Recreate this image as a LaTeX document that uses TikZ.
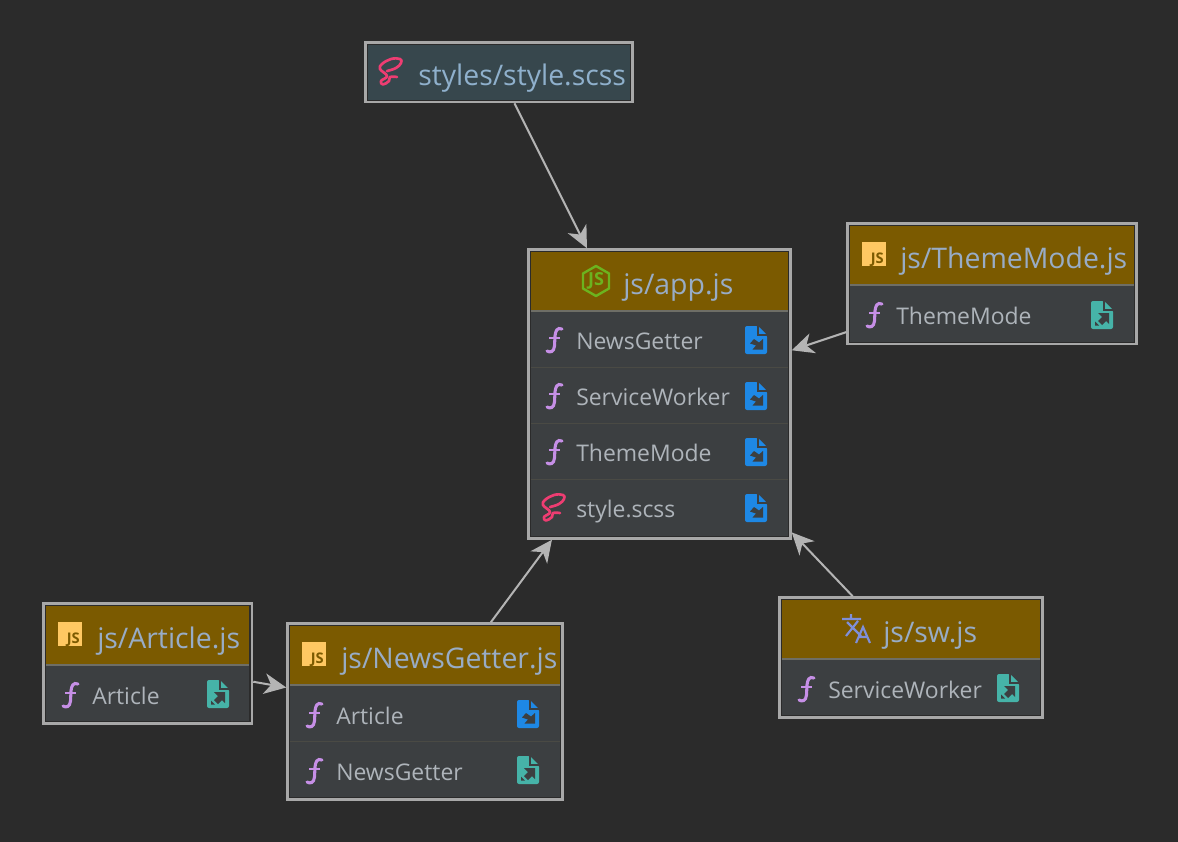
\documentclass[tikz,border=0pt]{standalone}
\usepackage{fontspec}
\setmainfont{Open Sans}
\usetikzlibrary{fit,arrows.meta}
\definecolor{bgc}{HTML}{2B2B2B}
\definecolor{hdrc}{HTML}{7B5A00}
\definecolor{bodyc}{HTML}{3C3F41}
\definecolor{scssc}{HTML}{37474D}
\definecolor{edgec}{HTML}{A8A8A8}
\definecolor{arrowc}{HTML}{B4B4B4}
\definecolor{seprowc}{HTML}{4A4A44}
\definecolor{sepc}{HTML}{6E6E66}
\definecolor{headtxt}{HTML}{98ACC6}
\definecolor{rowtxt}{HTML}{AEB4BA}
\definecolor{scsstxt}{HTML}{8FB0CC}
\definecolor{fnc}{HTML}{C68FE6}
\definecolor{sassc}{HTML}{EE3D72}
\definecolor{blueic}{HTML}{1E88E5}
\definecolor{tealic}{HTML}{46B3A8}
\definecolor{jsc}{HTML}{FFC862}
\definecolor{nodejsc}{HTML}{6CB31E}
\definecolor{trc}{HTML}{7F8FD8}
\tikzset{
  x=0.75pt,y=-0.75pt,
  boxframe/.style={draw=edgec,line width=1.9pt,fill=bgc,inner sep=0pt,rectangle},
  sepline/.style={draw=sepc,line width=1.5pt},
  rowline/.style={draw=seprowc,line width=0.75pt},
  headlabel/.style={anchor=base west,inner sep=0pt,text=headtxt,font=\fontsize{21.3}{25}\selectfont},
  rowlabel/.style={anchor=base west,inner sep=0pt,text=rowtxt,font=\fontsize{17.2}{20}\selectfont},
  dep/.style={draw=arrowc,line width=1.5pt,-{Stealth[length=16.5pt,width=15.5pt,inset=5pt]}},
  ficon/.pic={
    \draw[fnc,line width=2.3pt,line cap=round] (8,-11) .. controls (3,-13) and (1.5,-9) .. (1,-4) -- (0.5,6) .. controls (0,12) and (-4,13) .. (-7,11);
    \draw[fnc,line width=2.1pt] (-5,-2) -- (6,-2);
  },
  sassicon/.pic={
    \draw[sassc,line width=2pt,line cap=round,line join=round] plot[smooth,tension=0.7] coordinates {(-3,-1) (6,-4) (11,-9) (10,-13) (1,-13) (-8,-8) (-10,-3) (-3,4) (-9,9) (-7,12.5) (-1,9) (0,5) (7,5)};
  },
  transicon/.pic={
    \draw[trc,line width=1.6pt] (-14,-9) -- (5,-9) (-5,-14) -- (-5,-9) (-9,-6) -- (5,8) (2,-7) -- (-10,8);
    \draw[trc,line width=1.6pt] (0,15) -- (7,-1) -- (14,15) (3,9) -- (11,9);
  },
  nodeicon/.pic={
    \draw[nodejsc,line width=1.8pt,line join=round] (0,-15) -- (13,-7.5) -- (13,7.5) -- (0,15) -- (-13,7.5) -- (-13,-7.5) -- cycle;
    \node[inner sep=0pt,text=nodejsc,font=\fontsize{13.5}{14}\selectfont\bfseries] (nodejs) at (0,0) {JS};
  },
  jsicon/.pic={
    \fill[jsc] (-12,-12) rectangle (12,12);
    \node[inner sep=0pt,anchor=base east,text=hdrc,font=\fontsize{11}{11}\selectfont\bfseries] (jsmark) at (10,9.5) {JS};
  },
  bluefile/.pic={
    \fill[blueic,rounded corners=1.5pt] (-11,-14) -- (2,-14) -- (11,-5) -- (11,14) -- (-11,14) -- cycle;
    \draw[bodyc,line width=0.9pt] (2,-14) -- (2,-5) -- (11,-5);
    \fill[bodyc] (7,-1) -- (7,9.5) -- (-3.5,9.5) -- (0,5.5) -- (-6,3.5) -- (-2,-1) -- (3,2.5) -- cycle;
  },
  tealfile/.pic={
    \fill[tealic,rounded corners=1.5pt] (-11,-14) -- (2,-14) -- (11,-5) -- (11,14) -- (-11,14) -- cycle;
    \draw[bodyc,line width=0.9pt] (2,-14) -- (2,-5) -- (11,-5);
    \fill[bodyc] (-4,-2) -- (7,-2) -- (7,9) -- (4,6) -- (0,10) -- (-4,6) -- (0,2) -- cycle;
    \fill[bodyc] (-7,6.5) -- (-3,10.5) -- (-7,10.5) -- cycle;
  },
}
\begin{document}
\begin{tikzpicture}
\fill[bgc] (0,0) rectangle (1178,842);
\useasboundingbox (0,0) rectangle (1178,842);

% frames
\node[boxframe,fit={(365.5,42.5)(632.5,102)}] (scss) {};
\node[boxframe,fit={(528.5,249.5)(790.5,538.5)}] (app) {};
\node[boxframe,fit={(847.5,223.5)(1136.5,344)}] (theme) {};
\node[boxframe,fit={(779.5,597.5)(1042.5,717.5)}] (sw) {};
\node[boxframe,fit={(43.5,603.5)(252,723.5)}] (article) {};
\node[boxframe,fit={(287.5,623.5)(562.5,799.5)}] (getter) {};

% fills
\fill[scssc] (368,45) rectangle (630,100);
\fill[bodyc] (531,252) rectangle (788,536);
\fill[hdrc] (531,252) rectangle (788,310);
\draw[sepline] (531,311) -- (788,311);
\draw[rowline] (531,367) -- (788,367) (531,423) -- (788,423) (531,479) -- (788,479);
\fill[bodyc] (850,226) rectangle (1134,342);
\fill[hdrc] (850,226) rectangle (1134,284);
\draw[sepline] (850,285) -- (1134,285);
\fill[bodyc] (782,600) rectangle (1040,715);
\fill[hdrc] (782,600) rectangle (1040,658);
\draw[sepline] (782,659) -- (1040,659);
\fill[bodyc] (46,606) rectangle (249,721);
\fill[hdrc] (46,606) rectangle (249,664);
\draw[sepline] (46,665) -- (249,665);
\fill[bodyc] (290,626) rectangle (560,797);
\fill[hdrc] (290,626) rectangle (560,684);
\draw[sepline] (290,685) -- (560,685);
\draw[rowline] (290,741) -- (560,741);

% connectors
\draw[dep] (scss) -- (app);
\draw[dep] (theme) -- (app);
\draw[dep] (sw) -- (app);
\draw[dep] (getter) -- (app);
\draw[dep] (article) -- (getter);

% text
\node[headlabel,text=scsstxt] (t1) at (418,85) {styles/style.scss};
\node[headlabel] (t2) at (623,294) {js/app.js};
\node[rowlabel] (t3) at (576,349.5) {NewsGetter};
\node[rowlabel] (t4) at (576,405.5) {ServiceWorker};
\node[rowlabel] (t5) at (576,461.5) {ThemeMode};
\node[rowlabel] (t6) at (576,517.5) {style.scss};
\node[headlabel] (t7) at (900,268) {js/ThemeMode.js};
\node[rowlabel] (t8) at (896,324) {ThemeMode};
\node[headlabel] (t9) at (883,642) {js/sw.js};
\node[rowlabel] (t10) at (828,698) {ServiceWorker};
\node[headlabel] (t11) at (97,648) {js/Article.js};
\node[rowlabel] (t12) at (92,704) {Article};
\node[headlabel] (t13) at (341,668) {js/NewsGetter.js};
\node[rowlabel] (t14) at (336,724) {Article};
\node[rowlabel] (t15) at (336,780) {NewsGetter};

% icons
\pic at (390,72) {sassicon};
\pic at (596,281) {nodeicon};
\pic at (554,340) {ficon};
\pic at (554,396) {ficon};
\pic at (554,452) {ficon};
\pic at (553,508) {sassicon};
\pic at (756,340) {bluefile};
\pic at (756,396) {bluefile};
\pic at (756,452) {bluefile};
\pic at (756,508) {bluefile};
\pic at (874,254) {jsicon};
\pic at (874,315) {ficon};
\pic at (1102,315) {tealfile};
\pic at (856,628) {transicon};
\pic at (806,689) {ficon};
\pic at (1008,688) {tealfile};
\pic at (70,634) {jsicon};
\pic at (70,695) {ficon};
\pic at (218,694) {tealfile};
\pic at (314,654) {jsicon};
\pic at (314,715) {ficon};
\pic at (528,714) {bluefile};
\pic at (314,771) {ficon};
\pic at (528,770) {tealfile};
\end{tikzpicture}
\end{document}
